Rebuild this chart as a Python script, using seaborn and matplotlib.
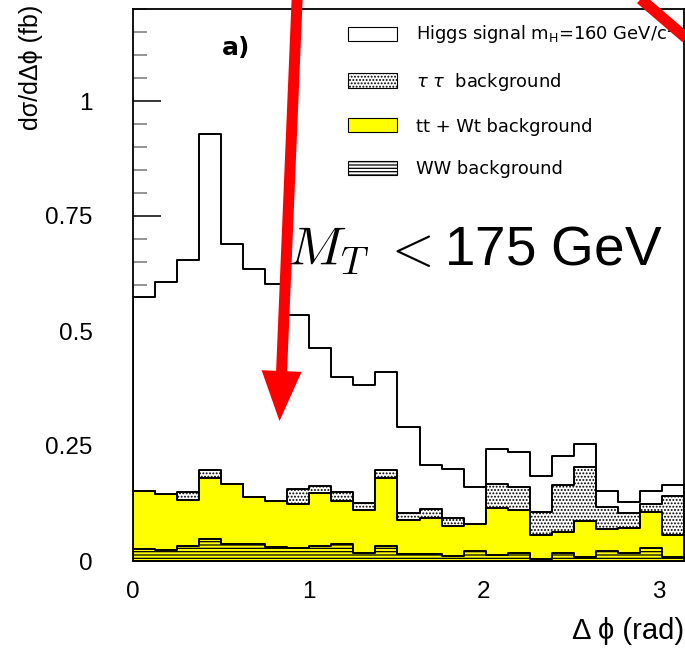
import numpy as np
import matplotlib
matplotlib.use("Agg")
import matplotlib.pyplot as plt
import seaborn as sns
from matplotlib.patches import Patch
from matplotlib.lines import Line2D
from matplotlib.ticker import MultipleLocator

# ---------------- data (25 bins of delta-phi in [0, pi]) ----------------
n_bins = 25
higgs = [0.420, 0.461, 0.505, 0.730, 0.523, 0.496, 0.472, 0.378, 0.301, 0.251,
         0.255, 0.213, 0.187, 0.096, 0.106, 0.080, 0.076, 0.078, 0.077, 0.063,
         0.049, 0.035, 0.025, 0.030, 0.023]
tautau = [0.000, 0.000, 0.017, 0.018, 0.000, 0.000, 0.000, 0.033, 0.016, 0.019,
          0.016, 0.017, 0.016, 0.018, 0.017, 0.000, 0.052, 0.050, 0.050, 0.101,
          0.118, 0.048, 0.033, 0.016, 0.085]
ttwt = [0.127, 0.120, 0.100, 0.132, 0.129, 0.101, 0.100, 0.095, 0.114, 0.093,
        0.093, 0.147, 0.074, 0.079, 0.066, 0.059, 0.103, 0.093, 0.053, 0.047,
        0.079, 0.048, 0.053, 0.079, 0.048]
ww = [0.026, 0.025, 0.033, 0.048, 0.038, 0.038, 0.031, 0.029, 0.033, 0.038,
      0.018, 0.033, 0.015, 0.015, 0.011, 0.022, 0.013, 0.017, 0.004, 0.017,
      0.008, 0.022, 0.018, 0.028, 0.009]
xticks = [0, 1, 2, 3]
yticks = [0, 0.25, 0.5, 0.75, 1]
ytick_labels = ["0", "0.25", "0.5", "0.75", "1"]
legend_labels = [r"Higgs signal m$_{\mathrm{H}}$=160 GeV/c$^{2}$",
                 r"$\tau\ \tau$  background",
                 "tt + Wt background",
                 "WW background"]

# ---------------- style ----------------
sns.set_theme(style="white")
plt.rcParams['font.family'] = ['Liberation Sans', 'DejaVu Sans']
plt.rcParams['hatch.linewidth'] = 0.9
for key in ["text.color", "axes.labelcolor", "xtick.color", "ytick.color"]:
    plt.rcParams[key] = "black"

edges = list(np.linspace(0, np.pi, n_bins + 1))
centers = 0.5 * (np.array(edges[:-1]) + np.array(edges[1:]))

cum_ww = np.array(ww)
cum_tt = cum_ww + np.array(ttwt)
cum_tau = cum_tt + np.array(tautau)
cum_tot = cum_tau + np.array(higgs)

W, H = 685, 649
fig = plt.figure(figsize=(W / 100, H / 100), dpi=100)
ax = fig.add_axes([133 / W, 88 / H, 551 / W, 552 / H])

layers = [
    (cum_tot, dict(facecolor="white")),
    (cum_tau, dict(facecolor="white", hatch=".....")),
    (cum_tt, dict(facecolor="#ffff00")),
    (cum_ww, dict(facecolor="#ffff00", hatch="-----")),
]
for vals, style in layers:
    sns.histplot(x=list(centers), weights=list(vals), bins=edges, element="step",
                 fill=True, edgecolor="black", linewidth=1.4, alpha=1, ax=ax,
                 **style)

ax.set_xlim(0, np.pi)
ax.set_ylim(0, 1.2)
ax.set_axisbelow(True)

for s in ax.spines.values():
    s.set_color("black")
    s.set_linewidth(1.3)
    s.set_zorder(4)

ax.set_yticks(yticks)
ax.set_yticklabels(ytick_labels)
ax.yaxis.set_minor_locator(MultipleLocator(0.05))
ax.tick_params(axis="y", which="major", direction="in", length=20, width=1.1,
               pad=29, labelsize=17.5, left=True, right=False, color="black",
               labelcolor="black")
ax.tick_params(axis="y", which="minor", direction="in", length=10, width=1.1,
               left=True, right=False, color="#777777")
ax.set_xticks(xticks)
ax.set_xticklabels([str(t) for t in xticks])
ax.tick_params(axis="x", which="both", length=0, pad=14.5, labelsize=17.5,
               labelcolor="black")

ax.set_ylabel("dσ/dΔϕ (fb)", loc="top", fontsize=18, color="black")
ax.yaxis.set_label_coords(-0.163, 1.007)
ax.set_xlabel("Δ ϕ (rad)", loc="right", fontsize=21, color="black")
ax.xaxis.set_label_coords(1.0, -0.101)

handles = [
    Patch(facecolor="white", edgecolor="black", lw=0.8),
    Patch(facecolor="white", edgecolor="black", lw=0.8, hatch="....."),
    Patch(facecolor="#ffff00", edgecolor="black", lw=0.8),
    Patch(facecolor="white", edgecolor="black", lw=0.8, hatch="-----"),
]
leg = ax.legend(handles, legend_labels, loc="upper left",
                bbox_to_anchor=((348 - 133) / 551, (561 - 22) / 552),
                frameon=False, prop=dict(family="DejaVu Sans", size=12.9),
                handlelength=2.75, handleheight=0.85, handletextpad=1.05,
                labelspacing=1.38, borderpad=0, borderaxespad=0)
for t in leg.get_texts():
    t.set_color("black")

ax.text((236 - 133) / 551, (561 - 48) / 552, "a)", transform=ax.transAxes,
        fontsize=18, fontweight="bold", family="DejaVu Sans", color="black",
        ha="center", va="center", zorder=6)

ax.text((287 - 133) / 551, (561 - 266) / 552, r"$M_T\ <$175 GeV",
        transform=ax.transAxes, fontsize=39.5, math_fontfamily="cm",
        family="Liberation Sans", color="black", ha="left", va="baseline",
        zorder=7)

# red annotation arrow
ax.annotate("", xy=(279.5 / W, 1 - 421 / H), xytext=(297.5 / W, 1 + 10 / H),
            xycoords="figure fraction", textcoords="figure fraction",
            arrowprops=dict(arrowstyle="simple,head_length=1.0,head_width=0.8,tail_width=0.22",
                            mutation_scale=36, color="#ff0000", lw=0,
                            shrinkA=0, shrinkB=0),
            annotation_clip=False, zorder=5)

# second red stroke at top right
fig.add_artist(Line2D([629 / W, 706.5 / W], [1 + 11 / H, 1 - 55.5 / H],
                      transform=fig.transFigure, color="#ff0000", lw=8,
                      solid_capstyle="butt", zorder=5))

fig.savefig("out.png", dpi=100)
